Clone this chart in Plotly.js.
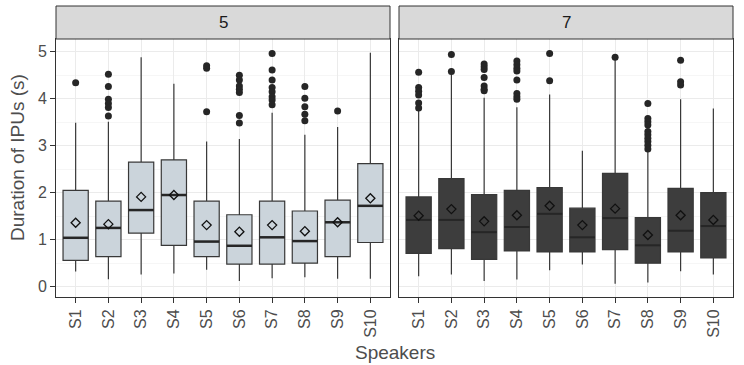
<!DOCTYPE html>
<html><head><meta charset="utf-8">
<script src="https://cdn.plot.ly/plotly-3.0.1.min.js"></script>
<style>body{margin:0;padding:0;background:#fff}#chart{width:744px;height:365px}</style>
</head><body><div id="chart"></div>
<script>
const speakers = ['S1','S2','S3','S4','S5','S6','S7','S8','S9','S10'];
const facets = ['5','7'];

// Facet "5"
const q1_5   = [0.56,0.64,1.14,0.88,0.64,0.48,0.48,0.50,0.64,0.94];
const med_5  = [1.04,1.25,1.63,1.95,0.96,0.87,1.05,0.97,1.37,1.72];
const q3_5   = [2.05,1.82,2.65,2.70,1.82,1.53,1.82,1.61,1.84,2.62];
const lo_5   = [0.32,0.16,0.26,0.28,0.36,0.12,0.18,0.20,0.17,0.17];
const hi_5   = [3.49,3.51,4.88,4.32,3.09,3.14,3.70,3.23,3.40,4.98];
const mean_5 = [1.36,1.33,1.91,1.95,1.31,1.17,1.31,1.18,1.37,1.88];
const out_5  = [[4.34],[4.52,4.26,3.99,3.90,3.81,3.63],[],[],[4.70,4.65,3.72],
  [4.50,4.40,4.27,4.20,4.13,3.64,3.48],[4.96,4.61,4.40,4.24,4.15,4.04,3.97,3.87],
  [4.26,4.01,3.83,3.67,3.53],[3.74],[]];

// Facet "7"
const q1_7   = [0.71,0.81,0.58,0.76,0.74,0.74,0.79,0.50,0.74,0.61];
const med_7  = [1.42,1.42,1.16,1.27,1.55,1.05,1.46,0.88,1.19,1.29];
const q3_7   = [1.91,2.30,1.96,2.05,2.11,1.67,2.41,1.47,2.09,2.00];
const lo_7   = [0.22,0.26,0.12,0.15,0.35,0.47,0.06,0.09,0.33,0.26];
const hi_7   = [3.76,4.56,4.02,3.82,4.09,2.89,4.85,2.87,3.99,3.79];
const mean_7 = [1.51,1.65,1.39,1.52,1.72,1.31,1.66,1.10,1.52,1.42];
const out_7  = [[4.56,4.24,4.16,4.08,3.91,3.80],[4.94,4.58],[4.74,4.68,4.62,4.45,4.27,4.20,4.17],
  [4.80,4.72,4.65,4.59,4.40,4.11,4.04,3.99],[4.96,4.38],[],[4.88],
  [3.90,3.58,3.51,3.44,3.30,3.23,3.16,3.09,3.01,2.93],[4.82,4.36,4.29],[]];

const FONT = 'Liberation Sans, Arial, sans-serif';
const xs = speakers.map((s,i)=>i+1);
const BW = 0.77;

function panel(q1,med,q3,lo,hi,mean,out,xa,ya,fill,medColor,medWidth){
  const tr = [];
  tr.push({type:'box', x:xs, q1:q1, median:med, q3:q3, lowerfence:lo, upperfence:hi,
    width:BW, whiskerwidth:0, boxpoints:false, fillcolor:fill,
    line:{color:'#383838', width:1.2}, xaxis:xa, yaxis:ya, hoverinfo:'skip', showlegend:false});
  const mx=[], my=[];
  xs.forEach((x,i)=>{ mx.push(x-BW/2, x+BW/2, null); my.push(med[i], med[i], null); });
  tr.push({type:'scatter', mode:'lines', x:mx, y:my, line:{color:medColor,width:medWidth},
    xaxis:xa, yaxis:ya, hoverinfo:'skip', showlegend:false});
  const ox=[], oy=[];
  out.forEach((arr,i)=>arr.forEach(v=>{ox.push(xs[i]); oy.push(v);}));
  tr.push({type:'scatter', mode:'markers', x:ox, y:oy,
    marker:{color:'#262626', size:7}, xaxis:xa, yaxis:ya, hoverinfo:'skip', showlegend:false});
  tr.push({type:'scatter', mode:'markers', x:xs, y:mean,
    marker:{symbol:'diamond-open', color:'#111111', size:7, line:{width:1.3}},
    xaxis:xa, yaxis:ya, hoverinfo:'skip', showlegend:false});
  return tr;
}

const data = [].concat(
  panel(q1_5,med_5,q3_5,lo_5,hi_5,mean_5,out_5,'x','y','#cbd4db','#262626',2.5),
  panel(q1_7,med_7,q3_7,lo_7,hi_7,mean_7,out_7,'x2','y2','#3d3d3d','#262626',2)
);

const plotW = 677, plotH = 258;
const d1 = [0, 334/plotW];
const d2 = [343/plotW, 1];
const stripH = 33/plotH;

const xCommon = {range:[0.4,10.6], tickvals:xs, ticktext:speakers, tickangle:-90,
  showgrid:true, gridcolor:'#ebebeb', gridwidth:1, zeroline:false,
  showline:true, linecolor:'#333333', linewidth:1, mirror:true,
  ticks:'outside', ticklen:5, tickcolor:'#333333', tickwidth:1,
  tickfont:{family:FONT, size:16, color:'#4d4d4d'}, fixedrange:true};
const yCommon = {range:[-0.22,5.27], tickvals:[0,1,2,3,4,5], showgrid:true, gridcolor:'#ebebeb',
  gridwidth:1, zeroline:false, showline:true, linecolor:'#333333', linewidth:1, mirror:true,
  minor:{dtick:0.5, tick0:0, showgrid:true, gridcolor:'#f4f4f4', gridwidth:0.8},
  ticks:'outside', ticklen:5, tickcolor:'#333333', tickwidth:1,
  tickfont:{family:FONT, size:16, color:'#4d4d4d'}, fixedrange:true};

const layout = {
  width:744, height:365,
  margin:{l:56, r:11, t:39, b:68},
  paper_bgcolor:'#ffffff', plot_bgcolor:'#ffffff',
  font:{family:FONT, color:'#4d4d4d'},
  showlegend:false,
  xaxis:Object.assign({}, xCommon, {domain:d1, anchor:'y'}),
  xaxis2:Object.assign({}, xCommon, {domain:d2, anchor:'y2'}),
  yaxis:Object.assign({}, yCommon, {domain:[0,1], anchor:'x'}),
  yaxis2:Object.assign({}, yCommon, {domain:[0,1], anchor:'x2', showticklabels:false, ticks:''}),
  shapes:[
    {type:'rect', xref:'paper', yref:'paper', x0:d1[0], x1:d1[1], y0:1, y1:1+stripH,
     fillcolor:'#d9d9d9', line:{color:'#333333', width:1}},
    {type:'rect', xref:'paper', yref:'paper', x0:d2[0], x1:d2[1], y0:1, y1:1+stripH,
     fillcolor:'#d9d9d9', line:{color:'#333333', width:1}}
  ],
  annotations:[
    {text:facets[0], xref:'paper', yref:'paper', x:(d1[0]+d1[1])/2, y:1+stripH/2,
     showarrow:false, font:{family:FONT, size:17, color:'#1a1a1a'}, xanchor:'center', yanchor:'middle'},
    {text:facets[1], xref:'paper', yref:'paper', x:(d2[0]+d2[1])/2, y:1+stripH/2,
     showarrow:false, font:{family:FONT, size:17, color:'#1a1a1a'}, xanchor:'center', yanchor:'middle'},
    {text:'Speakers', xref:'paper', yref:'paper', x:0.5, y:-55/plotH,
     showarrow:false, font:{family:FONT, size:19, color:'#4d4d4d'}, xanchor:'center', yanchor:'middle'},
    {text:'Duration of IPUs (s)', xref:'paper', yref:'paper', x:-39/plotW, y:(297-158)/plotH,
     textangle:-90, showarrow:false, font:{family:FONT, size:19, color:'#4d4d4d'},
     xanchor:'center', yanchor:'middle'}
  ]
};

Plotly.newPlot('chart', data, layout, {staticPlot:true, displayModeBar:false});
</script></body></html>
